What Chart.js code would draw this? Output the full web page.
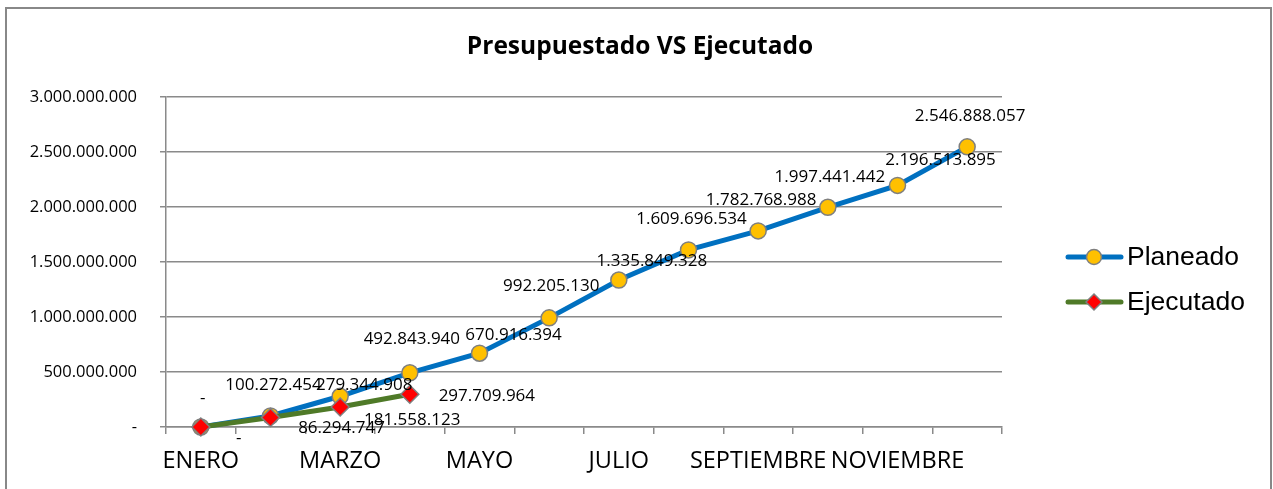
<!DOCTYPE html>
<html>
<head>
<meta charset="utf-8">
<script src="https://cdn.jsdelivr.net/npm/chart.js@4.4.1/dist/chart.umd.min.js"></script>
<style>
  html, body { margin: 0; padding: 0; background: #fff; }
  #wrap { width: 1273px; height: 489px; }
</style>
</head>
<body>
<div id="wrap"><canvas id="chart" width="1273" height="489"></canvas></div>
<script>
// ── Data ──────────────────────────────────────────────────
const months = ['ENERO', 'FEBRERO', 'MARZO', 'ABRIL', 'MAYO', 'JUNIO',
  'JULIO', 'AGOSTO', 'SEPTIEMBRE', 'OCTUBRE', 'NOVIEMBRE', 'DICIEMBRE'];
const planeado = [0, 100272454, 279344908, 492843940, 670916394, 992205130,
  1335849328, 1609696534, 1782768988, 1997441442, 2196513895, 2546888057];
const ejecutado = [0, 86294747, 181558123, 297709964,
  null, null, null, null, null, null, null, null];
const yTicks = [0, 500000000, 1000000000, 1500000000, 2000000000, 2500000000, 3000000000];

// label offsets from each point (Excel placed them by hand)
const planLabelDx = [2, 3, 24, 2, 34, 2, 33, 3, 3, 2, 43, 3];
const planLabelDy = [-29, -31, -11, -34, -18, -32, -19, -31, -31, -30, -25, -31];
const ejecLabelDx = [38, 71, 72, 77];
const ejecLabelDy = [11, 11, 13, 2];

const FONT = '"Open Sans", "Liberation Sans", sans-serif';
const GRID = '#8a8a8a';

// ── Helpers ───────────────────────────────────────────────
function fmt(n) {
  if (!n) return '-';
  return String(Math.round(n)).replace(/\B(?=(\d{3})+(?!\d))/g, '.');
}

// ── Extra drawing: frame, title, data labels, legend ──────
const decor = {
  id: 'decor',
  beforeDraw(chart) {
    const ctx = chart.ctx;
    ctx.save();
    ctx.fillStyle = '#fff';
    ctx.fillRect(0, 0, chart.width, chart.height);
    ctx.strokeStyle = '#888';
    ctx.lineWidth = 2;
    ctx.strokeRect(6, 8, 1265, 500);
    ctx.restore();
  },
  afterDatasetsDraw(chart) {
    const ctx = chart.ctx;
    ctx.save();
    // title
    ctx.fillStyle = '#000';
    ctx.font = 'bold 24.5px ' + FONT;
    ctx.textAlign = 'center';
    ctx.textBaseline = 'middle';
    ctx.fillText('Presupuestado VS Ejecutado', 640, 47);

    // data labels
    ctx.font = '17px ' + FONT;
    const pm = chart.getDatasetMeta(0);
    pm.data.forEach((pt, i) => {
      ctx.fillText(fmt(planeado[i]), pt.x + planLabelDx[i], pt.y + planLabelDy[i]);
    });
    const em = chart.getDatasetMeta(1);
    em.data.forEach((pt, i) => {
      if (ejecutado[i] === null) return;
      ctx.fillText(fmt(ejecutado[i]), pt.x + ejecLabelDx[i], pt.y + ejecLabelDy[i]);
    });

    // legend
    const items = [
      { name: 'Planeado', line: '#0070C0', fill: '#FFC000', shape: 'circle', y: 257 },
      { name: 'Ejecutado', line: '#4F7A28', fill: '#FF0000', shape: 'diamond', y: 302 },
    ];
    items.forEach(it => {
      ctx.lineCap = 'round';
      ctx.strokeStyle = it.line;
      ctx.lineWidth = 5;
      ctx.beginPath();
      ctx.moveTo(1068, it.y);
      ctx.lineTo(1121, it.y);
      ctx.stroke();
      ctx.fillStyle = it.fill;
      ctx.strokeStyle = '#7f7f7f';
      ctx.lineWidth = 1.5;
      ctx.beginPath();
      if (it.shape === 'circle') {
        ctx.arc(1094, it.y, 7.5, 0, Math.PI * 2);
      } else {
        ctx.moveTo(1094, it.y - 8);
        ctx.lineTo(1102, it.y);
        ctx.lineTo(1094, it.y + 8);
        ctx.lineTo(1086, it.y);
        ctx.closePath();
      }
      ctx.fill();
      ctx.stroke();
      ctx.fillStyle = '#000';
      ctx.font = '26.5px "Liberation Sans", Arial, sans-serif';
      ctx.textAlign = 'left';
      ctx.fillText(it.name, 1127, it.y + 1);
    });
    ctx.restore();
  },
};

// ── Chart ─────────────────────────────────────────────────
new Chart(document.getElementById('chart'), {
  type: 'line',
  data: {
    labels: months,
    datasets: [
      {
        label: 'Planeado',
        data: planeado,
        order: 1,
        borderColor: '#0070C0',
        borderWidth: 5,
        tension: 0,
        pointStyle: 'circle',
        pointRadius: 8,
        pointBackgroundColor: '#FFC000',
        pointBorderColor: '#7f7f7f',
        pointBorderWidth: 1.5,
        clip: false,
      },
      {
        label: 'Ejecutado',
        data: ejecutado,
        order: 0,
        borderColor: '#4F7A28',
        borderWidth: 5,
        tension: 0,
        pointStyle: 'rectRot',
        pointRadius: 9,
        pointBackgroundColor: '#FF0000',
        pointBorderColor: '#7f7f7f',
        pointBorderWidth: 1.5,
        clip: false,
      },
    ],
  },
  options: {
    responsive: false,
    animation: false,
    events: [],
    layout: { padding: { top: 97, right: 271, left: 0, bottom: 0 } },
    plugins: {
      legend: { display: false },
      title: { display: false },
      tooltip: { enabled: false },
    },
    scales: {
      x: {
        offset: true,
        grid: { offset: true, drawOnChartArea: false, drawTicks: true, tickLength: 7, color: GRID, lineWidth: 1.5 },
        border: { color: GRID, width: 1.5 },
        ticks: {
          autoSkip: false,
          maxRotation: 0,
          padding: 13,
          color: '#000',
          font: { family: FONT, size: 23.5 },
          callback: (v, i) => (i % 2 === 0 ? months[i] : ''),
        },
        afterFit: s => { s.height = 62; },
      },
      y: {
        min: 0,
        max: 3000000000,
        afterBuildTicks: s => { s.ticks = yTicks.map(v => ({ value: v })); },
        grid: { color: GRID, lineWidth: 1.5, tickLength: 6 },
        border: { color: GRID, width: 1.5 },
        ticks: {
          padding: 23,
          color: '#000',
          font: { family: FONT, size: 16.5 },
          callback: v => fmt(v),
        },
        afterFit: s => { s.width = 166; },
      },
    },
  },
  plugins: [decor],
});
</script>
</body>
</html>
